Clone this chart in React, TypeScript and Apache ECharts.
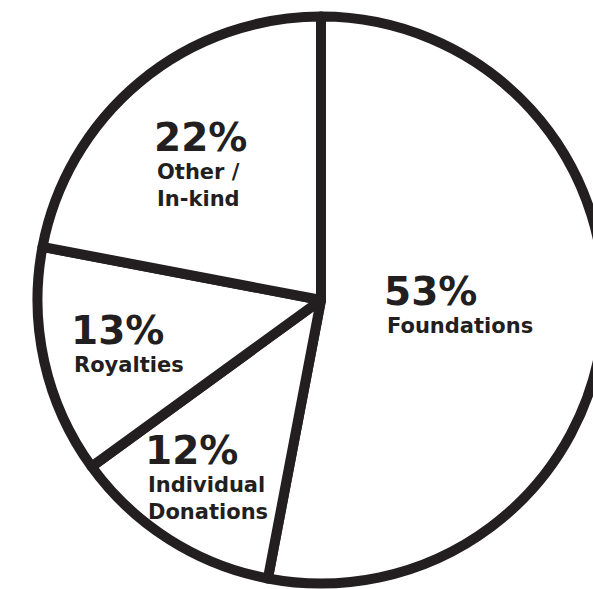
import React, { useEffect, useRef } from "react";
import * as echarts from "echarts";

const categories = ["Foundations", "Individual Donations", "Royalties", "Other / In-kind"];
const values = [53, 12, 13, 22];
const nameLines = [["Foundations"], ["Individual", "Donations"], ["Royalties"], ["Other /", "In-kind"]];
// label block anchors (left, top) in pixels
const labelPos = [
  [384, 270],
  [145, 429],
  [71, 309],
  [154, 116],
];

const INK = "#231f20";

export default function App() {
  const ref = useRef<HTMLDivElement>(null);
  useEffect(() => {
    if (!ref.current) return;
    const chart = echarts.init(ref.current, null, { renderer: "svg" });
    chart.setOption({
      animation: false,
      backgroundColor: "#ffffff",
      series: [
        {
          type: "pie",
          silent: true,
          center: [321, 300],
          radius: 283.5,
          startAngle: 90,
          clockwise: true,
          avoidLabelOverlap: false,
          emphasis: { disabled: true },
          itemStyle: {
            color: "#ffffff",
            borderColor: INK,
            borderWidth: 10,
            borderJoin: "round",
          },
          label: {
            show: true,
            position: "inside",
            color: INK,
            fontFamily: "DejaVu Sans",
            fontWeight: "bold",
            align: "left",
            formatter: (p: any) => {
              const lines = nameLines[p.dataIndex];
              return `{p|${p.value}%}\n` + lines.map((l) => `{n|${l}}`).join("\n");
            },
            rich: {
              p: { fontSize: 39, fontWeight: "bold", lineHeight: 42, color: INK, fontFamily: "DejaVu Sans" },
              n: { fontSize: 21, fontWeight: "bold", lineHeight: 27, color: INK, fontFamily: "DejaVu Sans", padding: [0, 0, 0, 3] },
            },
          },
          labelLine: { show: false },
          labelLayout: (params: any) => {
            const pos = labelPos[params.dataIndex];
            return { x: pos[0], y: pos[1], align: "left", verticalAlign: "top" };
          },
          data: categories.map((c, i) => ({ name: c, value: values[i] })),
        },
      ],
    });
    return () => chart.dispose();
  }, []);
  return (
    <div
      ref={ref}
      style={{ position: "absolute", left: 0, top: 0, width: 593, height: 589 }}
    />
  );
}
